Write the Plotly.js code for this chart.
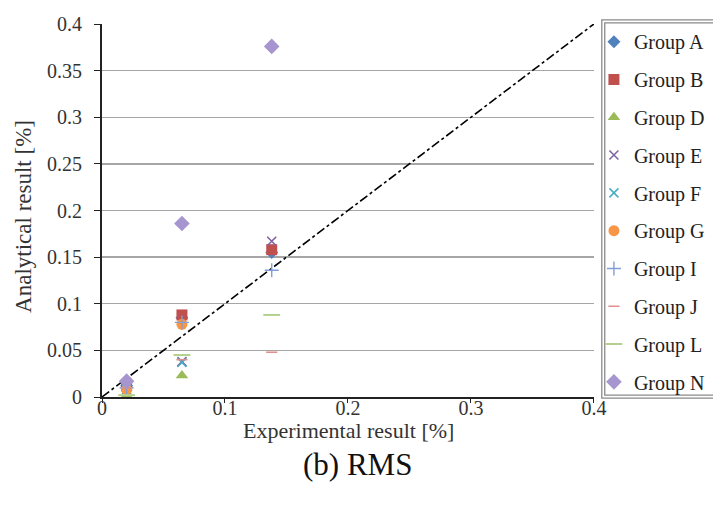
<!DOCTYPE html>
<html>
<head>
<meta charset="utf-8">
<script src="https://cdn.plot.ly/plotly-3.0.1.min.js"></script>
<style>html,body{margin:0;padding:0;background:#fff;}#chart{width:713px;height:507px;}</style>
</head>
<body>
<div id="chart"></div>
<script>
// Experimental (x) vs analytical (y) RMS results [%]
var groupNames = ["Group A","Group B","Group D","Group E","Group F","Group G","Group I","Group J","Group L","Group N"];
var xA = [0.020, 0.065, 0.138], yA = [0.012, 0.085, 0.155];
var xB = [0.020, 0.065, 0.138], yB = [0.012, 0.088, 0.158];
var xD = [0.020, 0.065],        yD = [0.002, 0.023];
var xE = [0.020, 0.065, 0.138], yE = [0.015, 0.038, 0.167];
var xF = [0.020, 0.065],        yF = [0.008, 0.037];
var xG = [0.020, 0.065],        yG = [0.008, 0.078];
var xI = [0.020, 0.065, 0.138], yI = [0.010, 0.080, 0.136];
var xJ = [0.020, 0.065, 0.138], yJ = [0.010, 0.040, 0.048];
var xL = [0.020, 0.065, 0.138], yL = [0.002, 0.045, 0.088];
var xN = [0.020, 0.065, 0.138], yN = [0.017, 0.186, 0.376];
var diagX = [0, 0.4], diagY = [0, 0.4];
var tickVals = [0,0.05,0.1,0.15,0.2,0.25,0.3,0.35,0.4];
var tickText = ["0","0.05","0.1","0.15","0.2","0.25","0.3","0.35","0.4"];
var xTickVals = [0,0.1,0.2,0.3,0.4];
var xTickText = ["0","0.1","0.2","0.3","0.4"];

var xs = [xA,xB,xD,xE,xF,xG,xI,xJ,xL,xN];
var ys = [yA,yB,yD,yE,yF,yG,yI,yJ,yL,yN];
var styles = [
  {symbol:"diamond", color:"#4F81BD", size:10},
  {symbol:"square", color:"#C0504D", size:11},
  {symbol:"triangle-up", color:"#9BBB59", size:11},
  {symbol:"x-thin-open", color:"#8064A2", size:9, lw:1.6},
  {symbol:"x-thin-open", color:"#4BACC6", size:9, lw:1.6},
  {symbol:"circle", color:"#F79646", size:11},
  {symbol:"cross-thin-open", color:"#7F9FD6", size:10, lw:1.4},
  {symbol:"line-ew-open", color:"#E0908D", size:8, lw:1.6},
  {symbol:"line-ew-open", color:"#B5D08C", size:12, lw:2},
  {symbol:"diamond", color:"#A695CF", size:12}
];
var traces = [];
traces.push({x:diagX, y:diagY, type:"scatter", mode:"lines", showlegend:false,
  line:{color:"#000", width:1.6, dash:"dashdot"}, hoverinfo:"skip"});
for (var i=0;i<groupNames.length;i++){
  var s = styles[i];
  var m = {symbol:s.symbol, color:s.color, size:s.size};
  if (s.lw) m.line = {color:s.color, width:s.lw};
  traces.push({x:xs[i], y:ys[i], type:"scatter", mode:"markers", name:groupNames[i],
    legendgroup:"g"+i, marker:m, cliponaxis:false});
}

var F = "Liberation Serif";
var layout = {
  width:713, height:507,
  margin:{l:102, r:115, t:24, b:110},
  paper_bgcolor:"#fff", plot_bgcolor:"#fff",
  font:{family:F, color:"#222", size:16},
  showlegend:true,
  xaxis:{range:[0,0.4], tickvals:xTickVals, ticktext:xTickText,
    showgrid:false, zeroline:false, showline:true, linecolor:"#222", linewidth:2,
    ticks:"outside", ticklen:4, tickcolor:"#222", tickfont:{family:F, size:20, color:"#333"},
    ticklabelstandoff:-12},
  yaxis:{range:[0,0.4], tickvals:tickVals, ticktext:tickText,
    showgrid:true, gridcolor:"#a6a6a6", gridwidth:1.3, zeroline:false,
    showline:true, linecolor:"#222", linewidth:2,
    ticks:"outside", ticklen:6, tickcolor:"#222", tickfont:{family:F, size:20, color:"#333"},
    ticklabelstandoff:8},
  legend:{xref:"container", x:0.833, xanchor:"left", yref:"paper", y:1.005, yanchor:"top",
    traceorder:"grouped", tracegroupgap:8.8, bgcolor:"rgba(0,0,0,0)", borderwidth:0,
    maxheight:1, font:{family:F, size:20, color:"#222"}, itemwidth:30},
  shapes:[
    {type:"rect", xref:"paper", yref:"paper", x0:1.016, x1:1.25, y0:-0.003, y1:1.011,
      line:{color:"#8a8a8a", width:1.3}, fillcolor:"rgba(0,0,0,0)"},
    {type:"rect", xref:"paper", yref:"paper", x0:1.022, x1:1.25, y0:0.005, y1:1.003,
      line:{color:"#8a8a8a", width:1.3}, fillcolor:"rgba(0,0,0,0)"}
  ],
  annotations:[
    {text:"Experimental result [%]", xref:"paper", yref:"paper", x:0.502, y:-0.089,
      xanchor:"center", yanchor:"middle", showarrow:false, font:{family:F, size:22, color:"#333"}},
    {text:"Analytical result [%]", xref:"paper", yref:"paper", x:-0.161, y:0.485, textangle:-90,
      xanchor:"center", yanchor:"middle", showarrow:false, font:{family:F, size:23, color:"#333"}},
    {text:"(b) RMS", xref:"paper", yref:"paper", x:0.52, y:-0.18,
      xanchor:"center", yanchor:"middle", showarrow:false, font:{family:F, size:31, color:"#111"}}
  ]
};
Plotly.newPlot("chart", traces, layout, {displayModeBar:false, staticPlot:true});
</script>
</body>
</html>
